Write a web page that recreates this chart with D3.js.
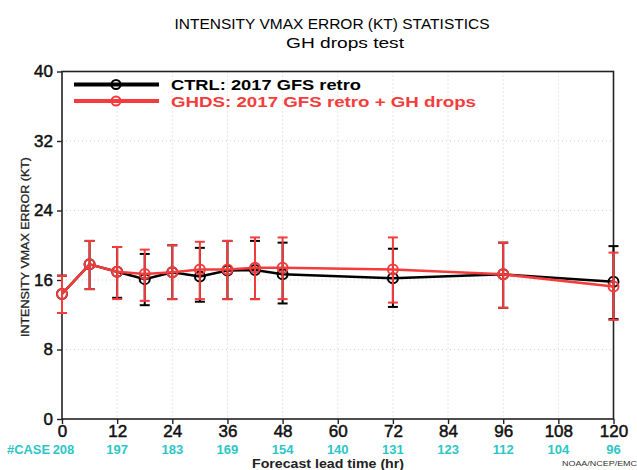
<!doctype html>
<html lang="en">
<head>
    <meta charset="utf-8"/>
    <title>Intensity VMAX error statistics</title>
    <script src="https://d3js.org/d3.v7.min.js"></script>
    <style>
        body { margin: 0; background: #fff; }
        svg { display: block; font-family: "Liberation Sans", Arial, sans-serif; }
    </style>
</head>
<body>
<svg id="chart"></svg>
<script>
    // forecast lead times (hr)
    const leads = [0, 6, 12, 18, 24, 30, 36, 42, 48, 72, 96, 120];

    // CTRL: 2017 GFS retro
    const ctrlMean = [14.4, 17.8, 16.95, 16.1, 16.9, 16.4, 17.1, 17.15, 16.65, 16.2, 16.65, 15.8];
    const ctrlHi = [16.5, 20.5, 19.8, 19.0, 20.0, 19.7, 20.5, 20.5, 20.3, 19.6, 20.3, 19.9];
    const ctrlLo = [12.2, 14.95, 13.95, 13.1, 13.8, 13.5, 13.8, 13.8, 13.3, 12.9, 12.8, 11.5];

    // GHDS: 2017 GFS retro + GH drops
    const ghdsMean = [14.4, 17.8, 16.95, 16.7, 16.9, 17.2, 17.2, 17.4, 17.4, 17.2, 16.65, 15.25];
    const ghdsHi = [16.5, 20.5, 19.8, 19.5, 20.0, 20.4, 20.5, 20.9, 20.9, 20.9, 20.3, 19.15];
    const ghdsLo = [12.2, 14.95, 13.8, 13.6, 13.8, 13.8, 13.8, 13.8, 13.8, 13.4, 12.8, 11.4];

    const xTicks = [0, 12, 24, 36, 48, 60, 72, 84, 96, 108, 120];
    const caseCounts = [208, 197, 183, 169, 154, 140, 131, 123, 112, 104, 96];
    const yTicks = [0, 8, 16, 24, 32, 40];

    const width = 637, height = 470;
    const plotL = 62, plotR = 613.5, plotT = 71.5, plotB = 419;
    const cyan = "#2cc6c6";

    const svg = d3.select("#chart")
        .attr("width", width)
        .attr("height", height);

    const x = d3.scaleLinear().domain([0, 120]).range([plotL, plotR]);
    const y = d3.scaleLinear().domain([0, 40]).range([plotB, plotT]);

    // titles
    svg.append("text")
        .attr("x", 332).attr("y", 28.5)
        .attr("text-anchor", "middle")
        .attr("font-size", 15)
        .attr("textLength", 315).attr("lengthAdjust", "spacingAndGlyphs")
        .text("INTENSITY VMAX ERROR (KT) STATISTICS");
    svg.append("text")
        .attr("x", 345).attr("y", 47.5)
        .attr("text-anchor", "middle")
        .attr("font-size", 15)
        .attr("textLength", 118).attr("lengthAdjust", "spacingAndGlyphs")
        .text("GH drops test");

    // dotted grid
    const grid = svg.append("g")
        .attr("stroke", "#cfcfcf")
        .attr("stroke-width", 1)
        .attr("stroke-dasharray", "1,3");
    grid.selectAll(".gx")
        .data(xTicks.slice(1, -1))
        .join("line")
        .attr("x1", d => x(d)).attr("x2", d => x(d))
        .attr("y1", plotT).attr("y2", plotB);
    grid.selectAll(".gy")
        .data(yTicks.slice(1, -1))
        .join("line")
        .attr("x1", plotL).attr("x2", plotR)
        .attr("y1", d => y(d)).attr("y2", d => y(d));

    // frame
    svg.append("rect")
        .attr("x", plotL).attr("y", plotT)
        .attr("width", plotR - plotL).attr("height", plotB - plotT)
        .attr("fill", "none")
        .attr("stroke", "#222")
        .attr("stroke-width", 1.6);

    // axes
    const yAxis = svg.append("g")
        .attr("transform", `translate(${plotL},0)`)
        .call(d3.axisLeft(y).tickValues(yTicks).tickSize(5).tickPadding(4));
    yAxis.select(".domain").remove();
    yAxis.selectAll("text")
        .attr("font-size", 17)
        .attr("fill", "#111")
        .attr("stroke", "#111").attr("stroke-width", 0.5)
        .attr("font-family", "Liberation Sans, Arial, sans-serif");
    yAxis.selectAll("line").attr("stroke", "#222").attr("stroke-width", 1.4);

    const xAxis = svg.append("g")
        .attr("transform", `translate(0,${plotB})`)
        .call(d3.axisBottom(x).tickValues(xTicks).tickSize(5).tickPadding(1));
    xAxis.select(".domain").remove();
    xAxis.selectAll("text")
        .attr("font-size", 17)
        .attr("fill", "#111")
        .attr("stroke", "#111").attr("stroke-width", 0.5)
        .attr("font-family", "Liberation Sans, Arial, sans-serif");
    xAxis.selectAll("line").attr("stroke", "#222").attr("stroke-width", 1.4);

    // case counts
    svg.append("g").selectAll("text")
        .data(caseCounts)
        .join("text")
        .attr("x", (d, i) => x(xTicks[i]) + (i === 0 ? 1.5 : 0))
        .attr("y", 453.5)
        .attr("text-anchor", "middle")
        .attr("font-size", 13)
        .attr("font-weight", "bold")
        .attr("fill", cyan)
        .text(d => d);
    svg.append("text")
        .attr("x", 7).attr("y", 453.5)
        .attr("font-size", 13)
        .attr("font-weight", "bold")
        .attr("fill", cyan)
        .attr("textLength", 43).attr("lengthAdjust", "spacingAndGlyphs")
        .text("#CASE");

    // axis titles
    svg.append("text")
        .attr("x", 328).attr("y", 468)
        .attr("text-anchor", "middle")
        .attr("font-size", 13)
        .attr("font-weight", "bold")
        .attr("fill", "#222")
        .attr("textLength", 152).attr("lengthAdjust", "spacingAndGlyphs")
        .text("Forecast lead time (hr)");
    svg.append("text")
        .attr("transform", "translate(29,247) rotate(-90)")
        .attr("text-anchor", "middle")
        .attr("font-size", 11.5)
        .attr("fill", "#222")
        .attr("stroke", "#222").attr("stroke-width", 0.3)
        .attr("textLength", 180).attr("lengthAdjust", "spacingAndGlyphs")
        .text("INTENSITY VMAX ERROR (KT)");
    svg.append("text")
        .attr("x", 562).attr("y", 466)
        .attr("font-size", 8)
        .attr("fill", "#333")
        .attr("textLength", 75).attr("lengthAdjust", "spacingAndGlyphs")
        .text("NOAA/NCEP/EMC");

    // series
    const series = [
        {name: "CTRL: 2017 GFS retro", color: "#000", mean: ctrlMean, hi: ctrlHi, lo: ctrlLo, ly: 84.5, tl: 190},
        {name: "GHDS: 2017 GFS retro + GH drops", color: "#f43c3c", mean: ghdsMean, hi: ghdsHi, lo: ghdsLo, ly: 101, tl: 305}
    ];

    const line = d3.line()
        .x(d => x(d[0]))
        .y(d => y(d[1]));

    series.forEach(s => {
        const g = svg.append("g");
        const pts = leads.map((t, i) => [t, s.mean[i], s.lo[i], s.hi[i]]);

        g.append("path")
            .datum(pts)
            .attr("d", line)
            .attr("fill", "none")
            .attr("stroke", s.color)
            .attr("stroke-width", 2.5);

        const bars = g.selectAll(".bar")
            .data(pts)
            .join("g");
        bars.append("line")
            .attr("x1", d => x(d[0])).attr("x2", d => x(d[0]))
            .attr("y1", d => y(d[2])).attr("y2", d => y(d[3]))
            .attr("stroke", s.color).attr("stroke-width", 2);
        bars.append("line")
            .attr("x1", d => x(d[0]) - 5).attr("x2", d => x(d[0]) + 5)
            .attr("y1", d => y(d[3])).attr("y2", d => y(d[3]))
            .attr("stroke", s.color).attr("stroke-width", 2);
        bars.append("line")
            .attr("x1", d => x(d[0]) - 5).attr("x2", d => x(d[0]) + 5)
            .attr("y1", d => y(d[2])).attr("y2", d => y(d[2]))
            .attr("stroke", s.color).attr("stroke-width", 2);
        bars.append("circle")
            .attr("cx", d => x(d[0])).attr("cy", d => y(d[1]))
            .attr("r", 5)
            .attr("fill", "none")
            .attr("stroke", s.color).attr("stroke-width", 2);

        // legend entry
        const lg = svg.append("g");
        lg.append("line")
            .attr("x1", 74).attr("x2", 159)
            .attr("y1", s.ly).attr("y2", s.ly)
            .attr("stroke", s.color).attr("stroke-width", 4);
        lg.append("circle")
            .attr("cx", 116).attr("cy", s.ly).attr("r", 4.5)
            .attr("fill", "none")
            .attr("stroke", s.color).attr("stroke-width", 2);
        lg.append("text")
            .attr("x", 171).attr("y", s.ly + 5.5)
            .attr("font-size", 15)
            .attr("font-weight", "bold")
            .attr("fill", s.color)
            .attr("textLength", s.tl).attr("lengthAdjust", "spacingAndGlyphs")
            .text(s.name);
    });
</script>
</body>
</html>
